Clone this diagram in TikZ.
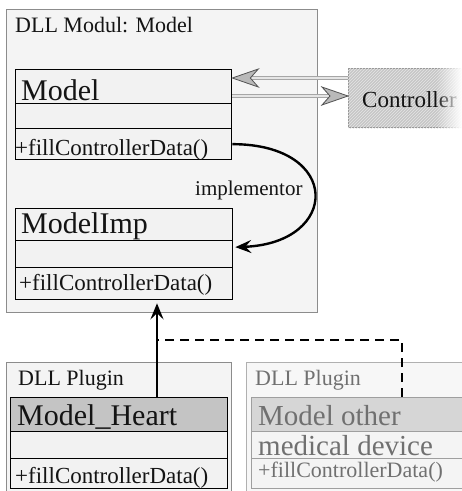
\documentclass[tikz,border=0pt]{standalone}
\usepackage{fontspec}
\setmainfont{Liberation Serif}
\usetikzlibrary{arrows.meta,patterns,fadings,calc}
\tikzfading[name=fadeR, left color=transparent!100, right color=transparent!0]
\newcommand\myfs[1]{\fontsize{#1}{#1}\selectfont}
\definecolor{outerfill}{HTML}{F4F4F4}
\definecolor{outerdraw}{HTML}{8C8C8C}
\definecolor{boxfill}{HTML}{F2F2F2}
\definecolor{headgray}{HTML}{C4C4C4}
\definecolor{ofill}{HTML}{F7F7F7}
\definecolor{odraw}{HTML}{B0B0B0}
\definecolor{ohead}{HTML}{D6D6D6}
\definecolor{otext}{HTML}{707070}
\definecolor{txt}{HTML}{141414}
\begin{document}
\begin{tikzpicture}[x=1pt,y=-1pt,
  frame/.style={draw=outerdraw, line width=1.2pt, fill=outerfill, anchor=north west, inner sep=0pt},
  compart/.style={draw=black, line width=1.3pt, fill=boxfill, anchor=north west, inner sep=0pt},
  ocompart/.style={draw=gray!75, line width=1.2pt, fill=outerfill, anchor=north west, inner sep=0pt},
  lbl/.style={anchor=base west, inner sep=0pt, text=txt},
  olbl/.style={anchor=base west, inner sep=0pt, text=otext},
  dline/.style={draw=gray!70, line width=1.2pt, double=gray!20, double distance=1.6pt},
  dtip/.style={fill=gray!55, draw=gray!65!black, line width=0.8pt, line join=miter},
  blackarrow/.style={draw=black, line width=2.4pt, -{Stealth[length=16pt,width=13pt,inset=6pt]}},
  dashline/.style={draw=black, line width=2.2pt, dash pattern=on 9pt off 6pt}
]
\useasboundingbox (0,0) rectangle (462,491);
\clip (0,0) rectangle (462,491);
\fill[white] (0,0) rectangle (462,491);

% containers
\node[frame, minimum width=311pt, minimum height=303pt] (outer) at (6,9) {};
\node[frame, minimum width=225pt, minimum height=140pt] (plug1) at (6,362) {};
\node[frame, draw=odraw, fill=ofill, minimum width=230pt, minimum height=140pt] (plug2) at (246,362) {};

% Model class
\node[compart, minimum width=216pt, minimum height=34pt] (mT) at (15,69) {};
\node[compart, minimum width=216pt, minimum height=25pt] (mM) at (15,103) {};
\node[compart, minimum width=216pt, minimum height=31pt] (mB) at (15,128) {};
% ModelImp class
\node[compart, minimum width=217pt, minimum height=32pt] (iT) at (15,208) {};
\node[compart, minimum width=217pt, minimum height=27pt] (iM) at (15,240) {};
\node[compart, minimum width=217pt, minimum height=32pt] (iB) at (15,267) {};
% Model_Heart class
\node[compart, fill=headgray, minimum width=217pt, minimum height=34pt] (hT) at (10,397) {};
\node[compart, minimum width=217pt, minimum height=27pt] (hM) at (10,431) {};
\node[compart, minimum width=217pt, minimum height=30pt] (hB) at (10,458) {};
% Model other class
\node[ocompart, fill=ohead, minimum width=230pt, minimum height=34pt] (oT) at (251,397) {};
\node[ocompart, minimum width=230pt, minimum height=27pt] (oM) at (251,431) {};
\node[ocompart, minimum width=230pt, minimum height=30pt] (oB) at (251,458) {};

% Controller
\node[anchor=north west, inner sep=0pt, minimum width=130pt, minimum height=59pt, fill=gray!45, draw=gray!85, line width=1.1pt] (ctrl) at (348,68) {};
\fill[pattern=north east lines, pattern color=gray!20] (ctrl.north west) rectangle (ctrl.south east);
\node[lbl, font=\myfs{23}] (ctrlt) at (362,107) {Controller};
\fill[white, path fading=fadeR] (436,66) rectangle (462,129);

% texts
\node[lbl, font=\myfs{22}] (t1) at (15,32) {DLL Modul: Model};
\node[lbl, font=\myfs{30}] (t2) at (21,100) {Model};
\node[lbl, font=\myfs{23}] (t3) at (15,155) {+fillControllerData()};
\node[lbl, font=\myfs{21}] (impl) at (195,195) {implementor};
\node[lbl, font=\myfs{30}] (t4) at (21,233) {ModelImp};
\node[lbl, font=\myfs{23}] (t5) at (19,290) {+fillControllerData()};
\node[lbl, font=\myfs{22}] (t6) at (18,385) {DLL Plugin};
\node[lbl, font=\myfs{30}] (t7) at (17,425) {Model\_Heart};
\node[lbl, font=\myfs{23}] (t8) at (15,483) {+fillControllerData()};
\node[olbl, font=\myfs{22}] (t9) at (255,385) {DLL Plugin};
\node[olbl, font=\myfs{29}] (t10) at (258,425) {Model other};
\node[olbl, font=\myfs{29}] (t11) at (258,455) {medical device};
\node[olbl, font=\myfs{22}] (t12) at (258,477) {+fillControllerData()};

% controller arrows (double lines with large gray heads)
\draw[dline, shorten >=16pt] ([yshift=-10pt]ctrl.north west) -- ([yshift=-10pt]ctrl.north west -| mT.east);
\filldraw[dtip] ([yshift=-10pt]ctrl.north west -| mT.east) -- ++(26,-9) -- ++(-8,9) -- ++(8,9) -- cycle;
\draw[dline, shorten >=16pt] ([yshift=-27pt]mT.north east) -- ([yshift=-27pt]mT.north east -| ctrl.west);
\filldraw[dtip] ([yshift=-27pt]mT.north east -| ctrl.west) -- ++(-26,-9) -- ++(8,9) -- ++(-8,9) -- cycle;

% implementor
\draw[blackarrow] (mB.east) .. controls +(110,0) and +(105,-4) .. ([xshift=2pt,yshift=7pt]iM.east);

% inheritance
\coordinate (j) at (157,340);
\coordinate (d) at (402,340);
\draw[dashline] (d |- oT.north) -- (d) -- (j);
\draw[blackarrow, shorten >=3pt] (j |- hT.north) -- (j |- iB.south);
\end{tikzpicture}
\end{document}
